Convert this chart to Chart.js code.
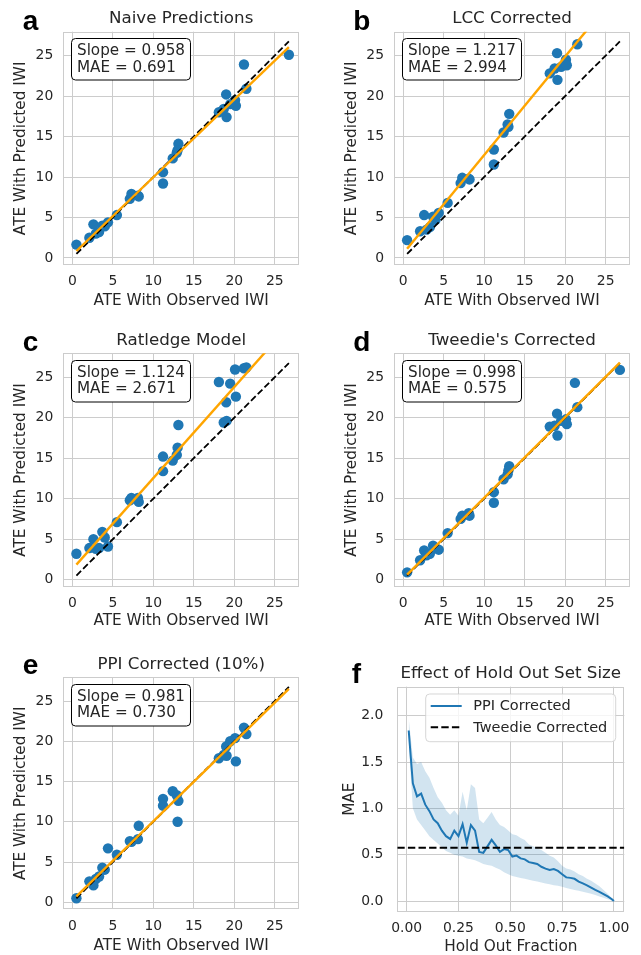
<!DOCTYPE html>
<html>
<head>
<meta charset="utf-8">
<script src="https://cdn.jsdelivr.net/npm/chart.js@4.4.1/dist/chart.umd.min.js"></script>
<style>
html,body{margin:0;padding:0;background:#ffffff;width:641px;height:955px;overflow:hidden;position:relative;}
canvas{position:absolute;}
</style>
</head>
<body>
<canvas id="pa" width="320" height="320" style="left:0px;top:0px;width:320px;height:320px"></canvas>
<canvas id="pb" width="321" height="320" style="left:320px;top:0px;width:321px;height:320px"></canvas>
<canvas id="pc" width="320" height="320" style="left:0px;top:320px;width:320px;height:320px"></canvas>
<canvas id="pd" width="321" height="320" style="left:320px;top:320px;width:321px;height:320px"></canvas>
<canvas id="pe" width="320" height="330" style="left:0px;top:640px;width:320px;height:330px"></canvas>
<canvas id="pf" width="321" height="330" style="left:320px;top:640px;width:321px;height:330px"></canvas>
<script>
// ---------------- DATA ----------------
const scatterTicks = [0, 5, 10, 15, 20, 25];
const scatterTickLabels = ['0', '5', '10', '15', '20', '25'];
const fracTicks = [0, 0.25, 0.5, 0.75, 1.0];
const fracTickLabels = ['0.00', '0.25', '0.50', '0.75', '1.00'];
const maeTicks = [0, 0.5, 1.0, 1.5, 2.0];
const maeTickLabels = ['0.0', '0.5', '1.0', '1.5', '2.0'];

const panelTitles = ['Naive Predictions', 'LCC Corrected', 'Ratledge Model', "Tweedie's Corrected", 'PPI Corrected (10%)', 'Effect of Hold Out Set Size'];
const panelLetters = ['a', 'b', 'c', 'd', 'e', 'f'];
const slopes = ['0.958', '1.217', '1.124', '0.998', '0.981'];
const maes = ['0.691', '2.994', '2.671', '0.575', '0.730'];

// ATE with observed IWI (x) shared by panels a-e
const observedATE = [0.5, 2.1, 2.6, 2.9, 3.3, 3.7, 4.0, 4.4, 5.5, 7.1, 7.3, 8.1, 8.2, 11.2, 11.2, 12.4, 12.9, 13.1, 13.0, 18.1, 18.7, 19.0, 19.05, 19.5, 20.1, 20.2, 21.2, 21.5, 26.75];
// ATE with predicted IWI (y), per method (null = outside the plotted range)
const naivePred   = [1.65, 2.5, 4.15, 3.0, 3.2, 4.0, 3.9, 4.4, 5.3, 7.3, 7.9, 7.7, 7.6, 10.6, 9.2, 12.3, 13.0, 14.1, 13.3, 18.0, 18.4, 20.2, 17.4, 19.0, 19.5, 18.8, 23.9, 20.9, 25.1];
const lccPred     = [2.2, 3.3, 5.3, 3.5, 3.8, 5.1, 4.7, 5.55, 6.8, 9.25, 9.9, 9.8, 9.7, 13.4, 11.55, 15.5, 16.5, 17.8, 16.2, 22.8, 23.4, 25.3, 22.0, 23.6, 24.5, 23.8, null, 26.4, null];
const ratledgePred= [3.2, 3.9, 5.0, 3.8, 3.9, 5.9, 5.2, 4.1, 7.1, 9.8, 10.1, 10.1, 9.6, 15.2, 13.4, 14.7, 15.4, 19.1, 16.3, 24.4, 19.4, 21.9, 19.6, 24.2, 25.95, 22.6, 26.1, 26.2, null];
const tweediePred = [0.9, 2.4, 3.6, 3.0, 3.2, 4.2, 3.9, 3.7, 5.75, 7.5, 7.9, 8.2, 7.9, 10.8, 9.5, 12.4, 13.0, 14.0, 13.5, 18.9, 19.0, 20.5, 17.8, 19.6, 19.8, 19.2, 24.3, 21.3, 25.9];
const ppiPred     = [0.5, 2.6, 2.1, 2.9, 3.2, 4.3, 4.05, 6.7, 5.9, 7.6, 7.5, 7.85, 9.5, 12.85, 12.0, 13.8, 13.3, 12.6, 10.0, 17.9, 18.3, 19.35, 18.2, 20.0, 20.4, 17.5, 21.7, 20.9, null];

// fitted regression lines (end points) and identity line
const fitX = [0.5, 26.75];
const naiveFitY = [0.86, 26.05];
const lccFitY = [1.15, 33.1];
const ratledgeFitY = [1.86, 31.37];
const tweedieFitY = [0.62, 26.8];
const ppiFitY = [0.74, 26.5];
const identityX = [0.5, 26.75];
const identityY = [0.5, 26.75];

// panel f: effect of hold out set size
const holdOutFraction = [0.01,0.03,0.05,0.07,0.09,0.11,0.13,0.15,0.17,0.19,0.21,0.23,0.25,0.27,0.29,0.31,0.33,0.35,0.37,0.39,0.41,0.43,0.45,0.47,0.49,0.51,0.53,0.55,0.57,0.59,0.61,0.63,0.65,0.67,0.69,0.71,0.73,0.75,0.77,0.79,0.81,0.83,0.85,0.87,0.89,0.91,0.93,0.95,0.97,0.99,1.00];
const ppiMAE   = [1.84,1.27,1.13,1.16,1.04,0.97,0.88,0.84,0.76,0.70,0.67,0.76,0.70,0.83,0.63,0.82,0.76,0.53,0.52,0.59,0.66,0.60,0.53,0.56,0.55,0.48,0.49,0.46,0.45,0.42,0.41,0.40,0.37,0.35,0.335,0.345,0.325,0.29,0.255,0.25,0.24,0.21,0.19,0.17,0.145,0.12,0.10,0.075,0.05,0.02,0.0];
const ppiUpper = [1.97,1.55,1.48,1.50,1.40,1.33,1.22,1.12,1.06,0.98,0.93,0.98,0.92,1.18,0.98,1.26,1.22,0.88,0.84,0.90,0.96,0.88,0.82,0.80,0.76,0.72,0.71,0.68,0.66,0.61,0.59,0.57,0.55,0.52,0.49,0.47,0.43,0.38,0.35,0.34,0.32,0.29,0.27,0.24,0.22,0.19,0.16,0.12,0.08,0.03,0.0];
const ppiLower = [1.70,1.00,0.88,0.82,0.76,0.70,0.66,0.62,0.58,0.54,0.52,0.50,0.49,0.48,0.46,0.45,0.44,0.42,0.40,0.39,0.38,0.36,0.34,0.31,0.29,0.27,0.26,0.25,0.24,0.23,0.22,0.21,0.20,0.19,0.18,0.17,0.165,0.155,0.14,0.13,0.12,0.11,0.10,0.09,0.08,0.065,0.05,0.035,0.02,0.005,0.0];
const tweedieMAE = [0.575, 0.575];
const fracRange = [-0.045, 1.05];

// ---------------- STYLE ----------------
const INK = '#262626', GRID = '#cccccc', BLUE = '#1f77b4', ORANGE = '#ffa500';
const FONT = "'DejaVu Sans', sans-serif";
Chart.defaults.font.family = FONT;
Chart.defaults.color = INK;

const pts = (xs, ys) => xs.map((x, i) => ({x: x, y: ys[i]})).filter(p => p.y !== null && p.y !== undefined);

const decor = {
  id: 'decor',
  beforeDatasetsDraw(chart, args, o) {
    const {ctx, chartArea: a} = chart;
    ctx.save();
    ctx.strokeStyle = GRID; ctx.lineWidth = 1;
    const l = Math.round(a.left) + 0.5, t = Math.round(a.top) + 0.5;
    const r = Math.round(a.right) - 0.5, b = Math.round(a.bottom) - 0.5;
    ctx.strokeRect(l, t, r - l, b - t);
    ctx.restore();
  },
  afterDraw(chart, args, o) {
    const {ctx, chartArea: a} = chart;
    ctx.save();
    // title
    ctx.fillStyle = INK;
    ctx.font = '16.7px ' + FONT;
    ctx.textAlign = 'center'; ctx.textBaseline = 'alphabetic';
    ctx.fillText(o.title, (a.left + a.right) / 2, a.top - 8.3);
    // panel letter
    ctx.fillStyle = '#000';
    ctx.font = 'bold 28px "Liberation Sans", Arial, sans-serif';
    ctx.textAlign = 'left';
    ctx.fillText(o.letter, o.letterX, o.letterY);
    // stats box
    if (o.stats) {
      ctx.font = '15.2px ' + FONT;
      const w = Math.max(...o.stats.map(s => ctx.measureText(s).width)) + 11;
      const bx = Math.round(a.left + 7.7) + 0.5, by = Math.round(a.top + 6.7) + 0.5;
      ctx.beginPath();
      ctx.roundRect(bx, by, w, 41.5, 4);
      ctx.fillStyle = '#ffffff'; ctx.fill();
      ctx.strokeStyle = '#000'; ctx.lineWidth = 1; ctx.stroke();
      ctx.fillStyle = INK;
      ctx.fillText(o.stats[0], bx + 5.5, a.top + 23.3);
      ctx.fillText(o.stats[1], bx + 5.5, a.top + 40);
    }
    // legend
    if (o.legend) {
      const bw = 190, bh = 47.7;
      const bx = a.right - 8.6 - bw, by = a.top + 7.3;
      ctx.beginPath();
      ctx.roundRect(bx, by, bw, bh, 4);
      ctx.fillStyle = 'rgba(255,255,255,0.8)'; ctx.fill();
      ctx.strokeStyle = 'rgba(204,204,204,0.8)'; ctx.lineWidth = 1; ctx.stroke();
      o.legend.forEach((item, i) => {
        const y = by + 12 + i * 21.3;
        ctx.beginPath();
        ctx.strokeStyle = item.color; ctx.lineWidth = item.width;
        ctx.setLineDash(item.dash || []);
        ctx.moveTo(bx + 5, y); ctx.lineTo(bx + 36, y); ctx.stroke();
        ctx.setLineDash([]);
        ctx.fillStyle = INK;
        ctx.font = '14.5px ' + FONT;
        ctx.textAlign = 'left'; ctx.textBaseline = 'middle';
        ctx.fillText(item.label, bx + 47.6, y + 0.5);
      });
    }
    ctx.restore();
  }
};

function axis(opts) {
  return {
    type: 'linear', min: opts.min, max: opts.max,
    afterBuildTicks: s => { s.ticks = opts.ticks.map(v => ({value: v})); },
    afterFit: s => { if (opts.h !== undefined) s.height = opts.h; if (opts.w !== undefined) s.width = opts.w; },
    ticks: {
      callback: (v) => opts.labels[opts.ticks.indexOf(v)],
      padding: opts.pad, font: {size: 13.9}, color: INK, maxRotation: 0, autoSkip: false
    },
    grid: {color: GRID, lineWidth: 1, drawTicks: false},
    border: {display: false},
    title: {display: true, text: opts.title, font: {size: 15.3}, color: INK, padding: opts.tpad}
  };
}

function scatterPanel(id, g, idx, pred, fitY) {
  new Chart(document.getElementById(id), {
    type: 'scatter',
    data: {
      datasets: [
        {data: pts(fitX, fitY), showLine: true, borderColor: ORANGE, borderWidth: 2.4, pointRadius: 0, order: 1},
        {data: pts(identityX, identityY), showLine: true, borderColor: '#000', borderWidth: 1.8, borderDash: [6.6, 2.9], pointRadius: 0, order: 2},
        {data: pts(observedATE, pred), backgroundColor: BLUE, borderWidth: 0, pointRadius: 5.2, order: 3}
      ]
    },
    options: {
      responsive: false, animation: false, devicePixelRatio: 1,
      layout: {padding: {top: g.t, right: g.r, left: 0, bottom: 0}},
      plugins: {
        legend: {display: false}, tooltip: {enabled: false},
        decor: {title: panelTitles[idx], letter: panelLetters[idx], letterX: g.lx, letterY: g.ly,
                stats: ['Slope = ' + slopes[idx], 'MAE = ' + maes[idx]]}
      },
      scales: {
        x: axis({min: -1.12, max: 28.0, ticks: scatterTicks, labels: scatterTickLabels, pad: 8.4, h: g.xh,
                 title: 'ATE With Observed IWI', tpad: {top: 0, bottom: g.xtp}}),
        y: axis({min: -0.87, max: 27.95, ticks: scatterTicks, labels: scatterTickLabels, pad: 10, w: g.yw,
                 title: 'ATE With Predicted IWI', tpad: {top: g.ytp, bottom: 0}})
      }
    },
    plugins: [decor]
  });
}

scatterPanel('pa', {t: 31.7, r: 21, yw: 63.3, xh: 55, xtp: 10.1, ytp: 11.8, lx: 22.7, ly: 30}, 0, naivePred, naiveFitY);
scatterPanel('pb', {t: 31.7, r: 11, yw: 74, xh: 55, xtp: 10.1, ytp: 22.8, lx: 33.3, ly: 30}, 1, lccPred, lccFitY);
scatterPanel('pc', {t: 33.3, r: 21, yw: 63.3, xh: 53.3, xtp: 10.1, ytp: 11.8, lx: 22.7, ly: 31}, 2, ratledgePred, ratledgeFitY);
scatterPanel('pd', {t: 33.3, r: 11, yw: 74, xh: 53.3, xtp: 10.1, ytp: 22.8, lx: 33.3, ly: 31}, 3, tweediePred, tweedieFitY);
scatterPanel('pe', {t: 37.3, r: 21, yw: 63.3, xh: 60.7, xtp: 14.9, ytp: 11.8, lx: 22.7, ly: 34}, 4, ppiPred, ppiFitY);

// panel f
new Chart(document.getElementById('pf'), {
  type: 'scatter',
  data: {
    datasets: [
      {data: pts(fracRange, tweedieMAE), showLine: true, borderColor: '#000', borderWidth: 2, borderDash: [7.4, 3.2], pointRadius: 0, order: 0},
      {data: pts(holdOutFraction, ppiMAE), showLine: true, borderColor: BLUE, borderWidth: 2, pointRadius: 0, order: 1},
      {data: pts(holdOutFraction, ppiUpper), showLine: true, borderWidth: 0, borderColor: 'rgba(0,0,0,0)', pointRadius: 0,
       fill: '+1', backgroundColor: 'rgba(31,119,180,0.2)', order: 2},
      {data: pts(holdOutFraction, ppiLower), showLine: true, borderWidth: 0, borderColor: 'rgba(0,0,0,0)', pointRadius: 0, fill: false, order: 3}
    ]
  },
  options: {
    responsive: false, animation: false, devicePixelRatio: 1,
    layout: {padding: {top: 46.7, right: 16.7, left: 0, bottom: 0}},
    plugins: {
      legend: {display: false}, tooltip: {enabled: false},
      decor: {title: panelTitles[5], letter: panelLetters[5], letterX: 31.7, letterY: 43.3,
              legend: [
                {label: 'PPI Corrected', color: BLUE, width: 2},
                {label: 'Tweedie Corrected', color: '#000', width: 2, dash: [7.4, 3.2]}
              ]}
    },
    scales: {
      x: axis({min: -0.045, max: 1.05, ticks: fracTicks, labels: fracTickLabels, pad: 8.4, h: 58.3,
               title: 'Hold Out Fraction', tpad: {top: 0, bottom: 14.2}}),
      y: axis({min: -0.115, max: 2.313, ticks: maeTicks, labels: maeTickLabels, pad: 14, w: 77.3,
               title: 'MAE', tpad: {top: 21.3, bottom: 0}})
    }
  },
  plugins: [decor]
});
</script>
</body>
</html>
